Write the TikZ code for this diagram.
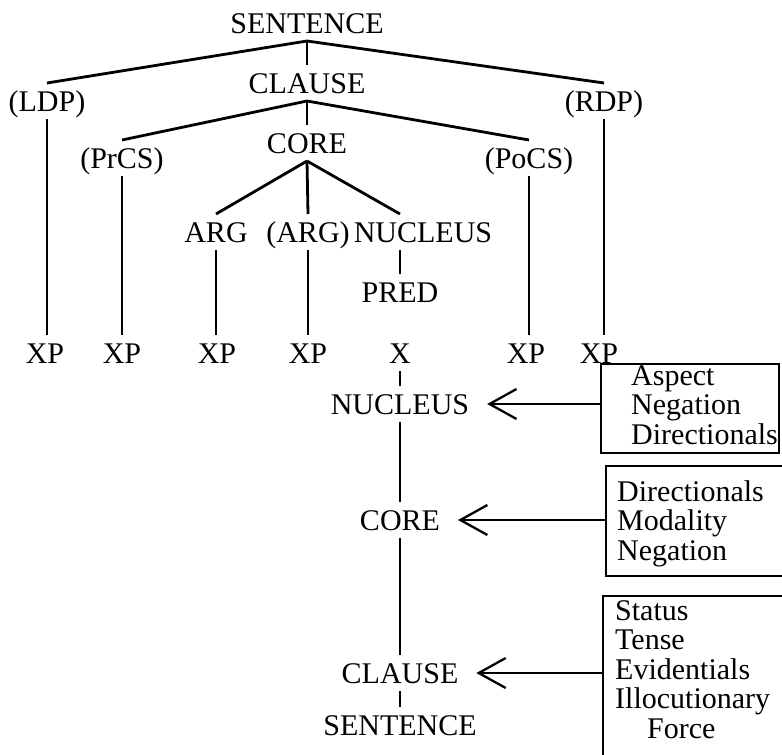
\documentclass[tikz,border=0pt]{standalone}
\usepackage{fontspec}
\setmainfont{Liberation Serif}
\usetikzlibrary{positioning,arrows.meta}

\begin{document}
\begin{tikzpicture}[
x=1pt, y=-1pt,
font=\fontsize{30}{29.5}\selectfont,
wordnode/.style={inner sep=0pt, outer sep=8pt, text height=20pt, text depth=0pt},
listnode/.style={inner sep=0pt, align=left},
framenode/.style={draw, line width=2.2pt, inner sep=0pt, anchor=north west},
branch/.style={line width=2.8pt},
pointer/.style={line width=2.3pt, -{Straight Barb[length=27pt,width=30pt]}, shorten >=10pt},
]
\useasboundingbox (0,0) rectangle (782,755);

%Nodes
\node[wordnode]      (S)     at (307,23)  {SENTENCE};
\node[wordnode]      (LDP)   at (47,101)  {(LDP)};
\node[wordnode]      (CL)    at (307,83)  {CLAUSE};
\node[wordnode]      (RDP)   at (604,101) {(RDP)};
\node[wordnode]      (PrCS)  at (122,158) {(PrCS)};
\node[wordnode]      (CO)    at (307,143) {CORE};
\node[wordnode]      (PoCS)  at (529,158) {(PoCS)};
\node[wordnode]      (ARG1)  at (216,232) {ARG};
\node[wordnode]      (ARG2)  at (308,232) {(ARG)};
\node[wordnode]      (NUC)   at (423,232) {NUCLEUS};
\node[wordnode]      (PRED)  at (400,292) {PRED};

\node[wordnode]      (XP1)   at (45,353)  {XP};
\node[wordnode]      (XP2)   at (122,353) {XP};
\node[wordnode]      (XP3)   at (217,353) {XP};
\node[wordnode]      (XP4)   at (308,353) {XP};
\node[wordnode]      (X)     at (400,353) {X};
\node[wordnode]      (XP5)   at (526,353) {XP};
\node[wordnode]      (XP6)   at (599,353) {XP};

\node[wordnode]      (NUC2)  [below=15pt of X]     {NUCLEUS};
\node[wordnode]      (CO2)   [below=80pt of NUC2]  {CORE};
\node[wordnode]      (CL2)   [below=117pt of CO2]  {CLAUSE};
\node[wordnode]      (S2)    [below=16pt of CL2]   {SENTENCE};

%Boxes
\node[framenode, minimum width=178pt, minimum height=89pt]  (B1) at (600,363) {};
\node[framenode, minimum width=200pt, minimum height=110pt] (B2) at (605,465) {};
\node[framenode, minimum width=200pt, minimum height=175pt] (B3) at (602,595) {};

\node[listnode] (L1) [below right=2pt and 31pt of B1.north west]  {Aspect\\Negation\\Directionals};
\node[listnode] (L2) [below right=15pt and 12pt of B2.north west] {Directionals\\Modality\\Negation};
\node[listnode] (L3) [below right=5pt and 13pt of B3.north west]  {Status\\Tense\\Evidentials\\Illocutionary\\\hspace*{32pt}Force};

%Lines
\draw[branch] (S.south) -- (LDP.north);
\draw[branch] (S.south) -- (CL.north);
\draw[branch] (S.south) -- (RDP.north);

\draw[branch] (CL.south) -- (PrCS.north);
\draw[branch] (CL.south) -- (CO.north);
\draw[branch] (CL.south) -- (PoCS.north);

\draw[branch] (CO.south) -- (ARG1.north);
\draw[branch] (CO.south) -- (ARG2.north);
\draw[branch] (CO.south) -- (NUC.north -| PRED);
\draw[branch] (NUC.south -| PRED) -- (PRED.north);

\draw[branch] (LDP.south)  -- (LDP.south |- XP1.north);
\draw[branch] (PrCS.south) -- (PrCS.south |- XP2.north);
\draw[branch] (ARG1.south) -- (ARG1.south |- XP3.north);
\draw[branch] (ARG2.south) -- (ARG2.south |- XP4.north);
\draw[branch] (PoCS.south) -- (PoCS.south |- XP5.north);
\draw[branch] (RDP.south)  -- (RDP.south |- XP6.north);

\draw[branch] (X.south)    -- (NUC2.north);
\draw[branch] (NUC2.south) -- (CO2.north);
\draw[branch] (CO2.south)  -- (CL2.north);
\draw[branch] (CL2.south)  -- (S2.north);

%Arrows
\draw[pointer] (B1.west |- NUC2) -- (NUC2.east);
\draw[pointer] (B2.west |- CO2)  -- (CO2.east);
\draw[pointer] (B3.west |- CL2)  -- (CL2.east);

\end{tikzpicture}
\end{document}
